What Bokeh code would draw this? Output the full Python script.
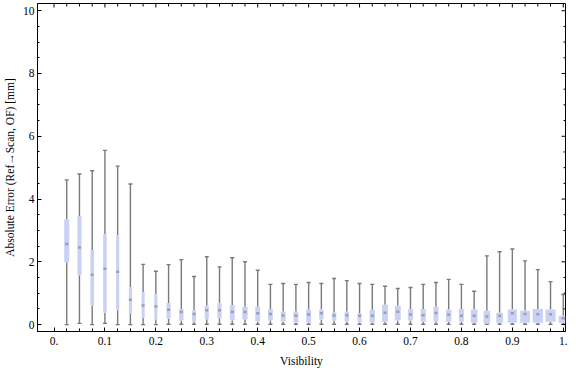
import math
from bokeh.plotting import figure
from bokeh.models import Range1d, FixedTicker, CustomJSTickFormatter, ColumnDataSource
from bokeh.embed import file_html
from bokeh.resources import INLINE

# ---- data ----
visibility = [0.025 * k for k in range(1, 41)]
whisker_lo = [0.00, 0.04, 0.00, 0.04, 0.00, 0.00, 0.00, 0.00, 0.01, 0.01,
              0.01, 0.01, 0.01, 0.01, 0.01, 0.01, 0.01, 0.01, 0.01, 0.01,
              0.01, 0.01, 0.01, 0.01, 0.01, 0.01, 0.01, 0.01, 0.01, 0.01,
              0.01, 0.01, 0.01, 0.01, 0.01, 0.01, 0.01, 0.01, 0.01, 0.01]
whisker_hi = [4.61, 4.80, 4.90, 5.55, 5.05, 4.48, 1.92, 1.70, 1.91, 2.07,
              1.53, 2.16, 1.84, 2.13, 2.00, 1.73, 1.28, 1.31, 1.28, 1.34,
              1.31, 1.47, 1.40, 1.31, 1.28, 1.22, 1.15, 1.18, 1.28, 1.34,
              1.44, 1.28, 1.06, 2.19, 2.32, 2.41, 2.03, 1.75, 1.37, 0.96]
q3 = [3.36, 3.46, 2.38, 2.89, 2.85, 1.19, 1.04, 0.97, 0.69, 0.50,
      0.46, 0.60, 0.68, 0.62, 0.57, 0.57, 0.50, 0.41, 0.41, 0.48,
      0.48, 0.38, 0.41, 0.35, 0.47, 0.63, 0.60, 0.50, 0.50, 0.57,
      0.48, 0.50, 0.48, 0.44, 0.38, 0.48, 0.44, 0.50, 0.48, 0.28]
q1 = [1.99, 1.57, 0.61, 0.38, 0.46, 0.34, 0.21, 0.16, 0.19, 0.13,
      0.10, 0.17, 0.20, 0.14, 0.17, 0.10, 0.14, 0.10, 0.07, 0.07,
      0.16, 0.13, 0.10, 0.07, 0.07, 0.09, 0.13, 0.13, 0.09, 0.09,
      0.09, 0.09, 0.06, 0.03, 0.06, 0.06, 0.06, 0.06, 0.09, 0.06]
median = [2.57, 2.46, 1.59, 1.78, 1.68, 0.79, 0.61, 0.58, 0.47, 0.40,
          0.34, 0.46, 0.46, 0.40, 0.40, 0.36, 0.34, 0.29, 0.28, 0.32,
          0.36, 0.29, 0.30, 0.28, 0.28, 0.38, 0.41, 0.32, 0.30, 0.37,
          0.31, 0.28, 0.28, 0.26, 0.28, 0.36, 0.34, 0.33, 0.33, 0.20]
box_width = [0.0100, 0.0080, 0.0070, 0.0070, 0.0060, 0.0060, 0.0060, 0.0060, 0.0080, 0.0087,
             0.0075, 0.0080, 0.0083, 0.0095, 0.0105, 0.0095, 0.0095, 0.0095, 0.0095, 0.0095,
             0.0087, 0.0087, 0.0087, 0.0080, 0.0105, 0.0115, 0.0115, 0.0103, 0.0103, 0.0097,
             0.0105, 0.0097, 0.0130, 0.0130, 0.0135, 0.0175, 0.0190, 0.0200, 0.0200, 0.0175]

x_major = [0, 0.1, 0.2, 0.3, 0.4, 0.5, 0.6, 0.7, 0.8, 0.9, 1.0]
x_minor = [0.025 * k for k in range(0, 41)]
y_major = [0, 2, 4, 6, 8, 10]
y_minor = [0.5 * k for k in range(0, 21)]

X0, X1 = -0.0324, 1.0044
Y0, Y1 = -0.22, 10.23

src = ColumnDataSource(dict(x=visibility, lo=whisker_lo, hi=whisker_hi,
                            q1=q1, q3=q3, med=median, w=box_width))

FONT = "Liberation Serif"

p = figure(width=568, height=369, output_backend="svg", toolbar_location=None,
           x_range=Range1d(X0, X1), y_range=Range1d(Y0, Y1),
           min_border_left=0, min_border_right=3, min_border_top=3, min_border_bottom=0)
p.background_fill_color = "white"
p.border_fill_color = "white"
p.outline_line_color = "black"
p.outline_line_width = 1
p.grid.visible = False

# whiskers, caps, boxes, medians
p.segment(x0="x", y0="lo", x1="x", y1="q1", source=src, line_color="#7a7a7a", line_width=1.4)
p.segment(x0="x", y0="q3", x1="x", y1="hi", source=src, line_color="#7a7a7a", line_width=1.4)
p.scatter(x="x", y="hi", source=src, marker="dash", size=4, line_color="#7a7a7a", line_width=1.4)
p.scatter(x="x", y="lo", source=src, marker="dash", size=4, line_color="#7a7a7a", line_width=1.4)
p.vbar(x="x", width="w", top="q3", bottom="q1", source=src,
       fill_color="#c9d1f4", line_color=None)
p.rect(x="x", y="med", width=3, height=2.5, width_units="screen", height_units="screen",
       source=src, fill_color="#8c8c9c", fill_alpha=0.75, line_color=None)

# frame ticks on the top and right edges (pointing inward)
xmin_only = [v for v in x_minor if all(abs(v - m) > 1e-9 for m in x_major)]
ymin_only = [v for v in y_minor if all(abs(v - m) > 1e-9 for m in y_major)]
p.ray(x=x_major, y=[Y1] * len(x_major), length=4, length_units="screen",
      angle=-math.pi / 2, line_color="black", line_width=1)
p.ray(x=xmin_only, y=[Y1] * len(xmin_only), length=3, length_units="screen",
      angle=-math.pi / 2, line_color="black", line_width=1)
p.ray(x=[X1] * len(y_major), y=y_major, length=4, length_units="screen",
      angle=math.pi, line_color="black", line_width=1)
p.ray(x=[X1] * len(ymin_only), y=ymin_only, length=2, length_units="screen",
      angle=math.pi, line_color="black", line_width=1)

xfmt = CustomJSTickFormatter(code="""
if (Math.abs(tick) < 1e-9) return "0.";
if (Math.abs(tick - 1) < 1e-9) return "1.";
return tick.toFixed(1);
""")

def style(ax):
    ax.axis_line_color = "black"
    ax.major_tick_line_color = "black"
    ax.minor_tick_line_color = "black"
    ax.major_tick_in = 4
    ax.major_tick_out = 0
    ax.minor_tick_in = 2
    ax.minor_tick_out = 0
    ax.major_label_text_font = FONT
    ax.major_label_text_font_size = "11.5px"
    ax.major_label_text_color = "black"
    ax.axis_label_text_font = FONT
    ax.axis_label_text_font_size = "11.5px"
    ax.axis_label_text_font_style = "normal"
    ax.axis_label_text_color = "black"

xb = p.xaxis[0]
xb.ticker = FixedTicker(ticks=x_major, minor_ticks=x_minor)
xb.formatter = xfmt
xb.axis_label = "Visibility"
xb.major_label_standoff = 5
xb.axis_label_standoff = 7
style(xb)
xb.minor_tick_in = 3

yl = p.yaxis[0]
yl.ticker = FixedTicker(ticks=y_major, minor_ticks=y_minor)
yl.axis_label = "Absolute Error (Ref\u2192Scan, OF) [mm]"
yl.major_label_standoff = 3
yl.axis_label_standoff = 4
style(yl)

open("out.html", "w").write(file_html(p, INLINE))
